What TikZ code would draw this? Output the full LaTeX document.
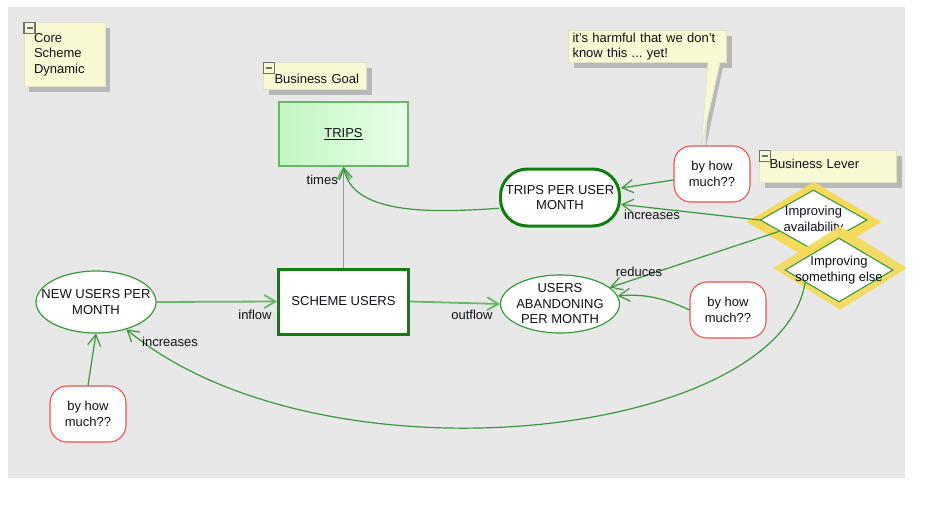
\documentclass[tikz,border=0pt]{standalone}
\usepackage{fontspec}
\setmainfont{Liberation Sans}
\usetikzlibrary{arrows.meta,shapes.geometric,shadows,calc}
\frenchspacing
\definecolor{bggray}{HTML}{E8E8E8}
\definecolor{noteyel}{HTML}{F8F8D2}
\definecolor{notebrd}{HTML}{E2E2CC}
\definecolor{shadowg}{HTML}{B8B8B8}
\definecolor{iconbrd}{HTML}{707070}
\definecolor{lgreen}{HTML}{3A983A}
\definecolor{pgreen}{HTML}{66B866}
\definecolor{dgreen}{HTML}{0E7E0E}
\definecolor{redb}{HTML}{F05050}
\definecolor{tripsL}{HTML}{C2F6C2}
\definecolor{tripsR}{HTML}{E8FFE8}
\definecolor{tripsB}{HTML}{66B866}
\definecolor{halo}{HTML}{F4DA58}
\definecolor{txt}{HTML}{101018}
\tikzset{
  notebox/.style={draw=notebrd, line width=1pt, fill=noteyel, anchor=north west, align=left,
    inner xsep=10pt, inner ysep=0pt,
    general shadow={shadow xshift=5pt, shadow yshift=-5pt, fill=shadowg}},
  ellnode/.style={ellipse, draw=lgreen, line width=1.2pt, fill=white, inner sep=0pt},
  ctext/.style={align=center, inner sep=0pt, text=txt},
  thickbox/.style={draw=dgreen, line width=3pt, fill=white, align=center},
  howmuch/.style={draw=redb, line width=1.1pt, fill=white, rounded corners=17pt, align=center,
    minimum width=76pt, minimum height=56pt, inner sep=0pt},
  dia/.style={diamond, draw=lgreen, line width=1.1pt, fill=white, inner sep=0pt},
  halobox/.style={diamond, fill=halo, inner sep=0pt},
  arr/.style={draw=lgreen, line width=1.2pt, -{Straight Barb[length=11pt,width=13pt]}},
  parr/.style={draw=pgreen, line width=1.8pt, -{Straight Barb[length=11pt,width=13pt]}},
  lbl/.style={inner sep=0pt, text=txt}
}
\newcommand{\minusicon}[1]{%
  \draw[iconbrd, line width=1.8pt, fill=noteyel] ($(#1)+(0.5,0.5)$) rectangle ($(#1)+(11.5,11.5)$);
  \draw[iconbrd, line width=1.5pt] ($(#1)+(3,6)$) -- ($(#1)+(9,6)$);}
\begin{document}
\begin{tikzpicture}[x=1pt,y=-1pt, font=\fontsize{13}{15.5}\selectfont, text=txt]
\useasboundingbox (0,0) rectangle (947,504);
\fill[bggray] (8,7) rectangle (905,478);

% notes
\node[notebox, minimum width=81pt, minimum height=64pt, text width=61pt] (core) at (23.5,22) {Core\\Scheme\\Dynamic};
\minusicon{core.north west}
\node[notebox, minimum width=101pt, minimum height=27pt, text width=81pt, inner xsep=11pt] (bgoal) at (263,62) {\raisebox{-7pt}[0pt][0pt]{Business Goal}};
\minusicon{bgoal.north west}
\node[notebox, minimum width=137pt, minimum height=32pt, text width=117pt] (blever) at (759,150) {\raisebox{-2pt}[0pt][0pt]{Business Lever}};
\minusicon{blever.north west}

% callout
\fill[shadowg] (723,67) -- (705,151) -- (711,67) -- cycle;
\node[notebox, minimum width=157pt, minimum height=32pt, text width=150pt, inner xsep=4pt] (call) at (568,30) {it's harmful that we don't\\know this ... yet!};
\coordinate (calltip) at (701,147);
\fill[noteyel] ($(call.south east)+(-19,-1)$) -- (calltip) -- ($(call.south east)+(-7,-1)$) -- cycle;
\draw[notebrd, line width=0.8pt] ($(call.south east)+(-19,0)$) -- (calltip) -- ($(call.south east)+(-7,0)$);

% main nodes
\node[draw=tripsB, line width=1.5pt, left color=tripsL, right color=tripsR, minimum width=129pt, minimum height=64pt] (trips) at (343.5,134) {\underline{TRIPS}};
\node[thickbox, minimum width=130pt, minimum height=65pt] (su) at (343.5,301.5) {SCHEME USERS};
\node[ellnode, minimum width=120pt, minimum height=62pt, label={[ctext]center:NEW USERS PER\\MONTH}] (nupm) at (96,302) {};
\node[ellnode, minimum width=119pt, minimum height=58pt, label={[ctext]center:USERS\\ABANDONING\\PER MONTH}] (uapm) at (560,304) {};
\node[thickbox, rounded corners=27pt, minimum width=119pt, minimum height=57pt, inner sep=0pt] (tpum) at (560,197.5) {TRIPS PER USER\\MONTH};
\node[howmuch] (bhm1) at (88,414) {by how\\much??};
\node[howmuch] (bhm2) at (728,310) {by how\\much??};
\node[howmuch] (bhm3) at (712,174) {by how\\much??};

% diamonds
\node[halobox, minimum width=135pt, minimum height=80pt] (halo1) at (814,222) {};
\node[dia, minimum width=107pt, minimum height=60pt, label={[ctext]center:Improving\\availability}] (ia) at (813.5,220) {};
\node[halobox, opacity=0.9, minimum width=134pt, minimum height=84pt] (halo2) at (840,268) {};
\node[dia, minimum width=108pt, minimum height=64pt, label={[ctext]center:Improving\\something else}] (ise) at (839,270) {};

% connectors
\draw[parr] (su.north) -- (trips.south);
\draw[arr] (tpum.190) .. controls (420,214) and (352,212) .. (trips.south);
\node[lbl, anchor=east] (ltimes) at (338,180) {times};
\draw[parr] (nupm.east) -- (su.west);
\node[lbl] (linflow) at (255,315) {inflow};
\draw[parr] (su.east) -- (uapm.west);
\node[lbl] (loutflow) at (472,315) {outflow};
\draw[arr] (bhm1.north) -- (nupm.south);
\draw[arr] (ise.200) .. controls (780,440) and (320,490) .. (nupm.-42);
\node[lbl] (lincr1) at (170,342) {increases};
\draw[arr] (bhm2.west) .. controls (660,296) and (640,294) .. (uapm.8);
\draw[arr] (ia) -- (uapm);
\node[lbl] (lreduces) at (639,272) {reduces};
\draw[arr] (bhm3) -- (tpum);
\draw[arr] (ia.west) -- (tpum);
\node[lbl] (lincr2) at (652,215) {increases};
\end{tikzpicture}
\end{document}
